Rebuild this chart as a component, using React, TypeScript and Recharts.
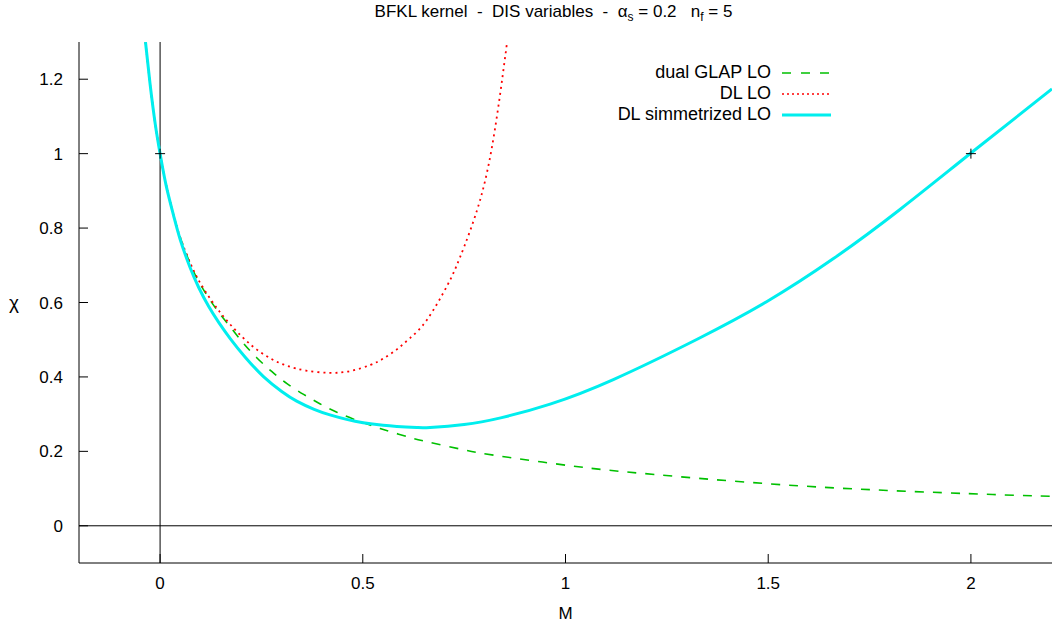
import { ComposedChart, Line, Scatter, XAxis, YAxis, ReferenceLine, Legend } from "recharts"

const FONT = "'Liberation Sans', Arial, Helvetica, sans-serif"
const W = 1052
const H = 627

// axis ticks
const mTicks = [0, 0.5, 1, 1.5, 2]
const chiTicks = [0, 0.2, 0.4, 0.6, 0.8, 1, 1.2]

// dual GLAP LO (green dashed)
const glapM = [-0.036, -0.025, -0.012, 0, 0.015, 0.033, 0.05, 0.074, 0.095, 0.12, 0.145, 0.177, 0.206, 0.239, 0.276, 0.313, 0.354, 0.394, 0.436, 0.481, 0.527, 0.568, 0.617, 0.662, 0.75, 0.84, 1.014, 1.187, 1.499, 1.794, 2.054, 2.2]
const glapChi = [1.3, 1.19, 1.08, 1.0, 0.916, 0.836, 0.774, 0.705, 0.657, 0.612, 0.573, 0.529, 0.49, 0.451, 0.414, 0.382, 0.353, 0.328, 0.305, 0.285, 0.267, 0.253, 0.237, 0.225, 0.204, 0.187, 0.161, 0.141, 0.113, 0.095, 0.084, 0.079]

// DL LO (red dotted)
const dlM = [-0.036, -0.025, -0.012, 0, 0.015, 0.033, 0.05, 0.074, 0.095, 0.12, 0.145, 0.173, 0.205, 0.238, 0.275, 0.313, 0.36, 0.419, 0.47, 0.518, 0.55, 0.584, 0.617, 0.658, 0.708, 0.74, 0.789, 0.826, 0.856]
const dlChi = [1.3, 1.19, 1.08, 1.0, 0.916, 0.836, 0.774, 0.707, 0.66, 0.616, 0.578, 0.541, 0.505, 0.474, 0.448, 0.43, 0.417, 0.411, 0.416, 0.432, 0.449, 0.474, 0.505, 0.553, 0.645, 0.722, 0.874, 1.066, 1.3]

// DL simmetrized LO (cyan solid)
const symM = [-0.036, -0.025, -0.012, 0, 0.015, 0.033, 0.05, 0.074, 0.095, 0.12, 0.145, 0.173, 0.21, 0.255, 0.3, 0.337, 0.38, 0.419, 0.46, 0.501, 0.55, 0.584, 0.633, 0.666, 0.75, 0.84, 0.962, 1.118, 1.326, 1.496, 1.661, 1.825, 1.997, 2.2]
const symChi = [1.3, 1.19, 1.08, 1.0, 0.914, 0.835, 0.768, 0.694, 0.641, 0.589, 0.546, 0.503, 0.453, 0.401, 0.361, 0.335, 0.313, 0.298, 0.286, 0.277, 0.27, 0.267, 0.264, 0.264, 0.272, 0.29, 0.327, 0.393, 0.502, 0.602, 0.718, 0.85, 0.999, 1.174]

// "+" markers
const crossM = [0, 2]
const crossChi = [1, 1]

const zip = (ms: number[], chis: number[]) => ms.map((m, i) => ({ m, chi: chis[i] }))

const glapData = zip(glapM, glapChi)
const dlData = zip(dlM, dlChi)
const symData = zip(symM, symChi)
const crossData = zip(crossM, crossChi)

const legendRows = [
  { name: "dual GLAP LO", color: "#00c000", width: 1.6, dash: "9 10" },
  { name: "DL LO", color: "#ff0000", width: 1.6, dash: "2 3" },
  { name: "DL simmetrized LO", color: "#00eeee", width: 3, dash: undefined },
]

const tickStyle = { fill: "#000", fontSize: 17, fontFamily: FONT }

const renderLegend = () => (
  <div style={{ fontFamily: FONT, fontSize: 18, color: "#000" }}>
    {legendRows.map((row) => (
      <div key={row.name} style={{ display: "flex", alignItems: "center", justifyContent: "flex-end", height: 21 }}>
        <span style={{ whiteSpace: "nowrap" }}>{row.name}</span>
        <svg width={49} height={6} style={{ marginLeft: 11 }}>
          <line x1={0} y1={3} x2={49} y2={3} stroke={row.color} strokeWidth={row.width} strokeDasharray={row.dash} />
        </svg>
      </div>
    ))}
  </div>
)

const renderCross = (props: any) => {
  const { cx, cy } = props
  return <path d={`M${cx - 5},${cy}H${cx + 5}M${cx},${cy - 5}V${cy + 5}`} stroke="#000" strokeWidth={1} fill="none" />
}

export default function App() {
  return (
    <div style={{ position: "absolute", left: 0, top: 0, width: W, height: H, background: "#fff", fontFamily: FONT }}>
      <div
        style={{
          position: "absolute",
          top: 2,
          left: 67,
          width: 973,
          textAlign: "center",
          fontSize: 17,
          whiteSpace: "pre",
          color: "#000",
        }}
      >
        {"BFKL kernel  -  DIS variables  -  "}α<sub style={{ fontSize: 12 }}>s</sub>
        {" = 0.2   n"}
        <sub style={{ fontSize: 12 }}>f</sub>
        {" = 5"}
      </div>
      <ComposedChart width={W} height={H} margin={{ top: 42, right: 0, bottom: 0, left: 0 }}>
        <XAxis
          type="number"
          dataKey="m"
          domain={[-0.2, 2.2]}
          ticks={mTicks}
          allowDataOverflow
          height={64}
          tickSize={-9}
          tickMargin={23}
          axisLine={{ stroke: "#000" }}
          tickLine={{ stroke: "#000" }}
          tick={tickStyle}
          label={{ value: "M", position: "insideBottom", offset: 8, fill: "#000", fontSize: 17, fontFamily: FONT }}
        />
        <XAxis
          xAxisId="top"
          orientation="top"
          type="number"
          dataKey="m"
          domain={[-0.2, 2.2]}
          ticks={mTicks}
          allowDataOverflow
          height={0}
          tickSize={-9}
          axisLine={{ stroke: "#000" }}
          tickLine={{ stroke: "#000" }}
          tick={false}
        />
        <YAxis
          type="number"
          domain={[-0.1, 1.3]}
          ticks={chiTicks}
          allowDataOverflow
          width={79}
          tickSize={-9}
          tickMargin={25}
          axisLine={{ stroke: "#000" }}
          tickLine={{ stroke: "#000" }}
          tick={tickStyle}
          label={{ value: "χ", position: "insideLeft", offset: 9, fill: "#000", fontSize: 19, fontFamily: FONT }}
        />
        <YAxis
          yAxisId="right"
          orientation="right"
          type="number"
          domain={[-0.1, 1.3]}
          ticks={chiTicks}
          allowDataOverflow
          width={0}
          tickSize={-9}
          axisLine={{ stroke: "#000" }}
          tickLine={{ stroke: "#000" }}
          tick={false}
        />
        <ReferenceLine x={0} stroke="#000" strokeWidth={1} />
        <ReferenceLine y={0} stroke="#000" strokeWidth={1} />
        <Line
          data={glapData}
          dataKey="chi"
          name="dual GLAP LO"
          type="natural"
          stroke="#00c000"
          strokeWidth={1.6}
          strokeDasharray="9 9"
          dot={false}
          activeDot={false}
          isAnimationActive={false}
        />
        <Line
          data={dlData}
          dataKey="chi"
          name="DL LO"
          type="natural"
          stroke="#ff0000"
          strokeWidth={1.8}
          strokeDasharray="2 4"
          dot={false}
          activeDot={false}
          isAnimationActive={false}
        />
        <Line
          data={symData}
          dataKey="chi"
          name="DL simmetrized LO"
          type="natural"
          stroke="#00eeee"
          strokeWidth={3}
          dot={false}
          activeDot={false}
          isAnimationActive={false}
        />
        <Scatter data={crossData} dataKey="chi" shape={renderCross} legendType="none" isAnimationActive={false} />
        <Legend
          layout="vertical"
          align="center"
          verticalAlign="middle"
          content={renderLegend}
          wrapperStyle={{ position: "absolute", top: 62, left: 531, width: 300 }}
        />
      </ComposedChart>
    </div>
  )
}
